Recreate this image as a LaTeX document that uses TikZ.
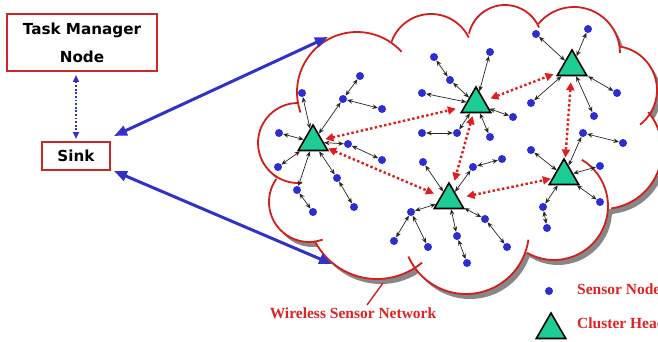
\documentclass[tikz,border=0pt]{standalone}
\usepackage{fontspec}
\newfontfamily\boxfont{DejaVu Sans}
\newfontfamily\capfont{Liberation Serif}
\usetikzlibrary{arrows.meta,shapes.geometric,calc}

\definecolor{cloudred}{RGB}{212,30,30}
\definecolor{boxred}{RGB}{205,40,40}
\definecolor{linkblue}{RGB}{50,50,200}
\definecolor{dotblue}{RGB}{45,45,212}
\definecolor{headgreen}{RGB}{30,204,150}
\definecolor{shadowgray}{RGB}{135,135,135}
\definecolor{labelred}{RGB}{224,34,34}
\definecolor{hopred}{RGB}{226,28,28}

% one scallop of the cloud outline: centre x, centre y, radius, start angle, end angle
\newcommand\cloudarc[5]{%
  \draw[cloudline] (#1,#2) ++(#4:#3) arc[start angle=#4, end angle=#5, radius=#3];}

\tikzset{
  cloudline/.style={draw=cloudred, line width=1.8pt},
  sensor/.style={circle, fill=dotblue, inner sep=0pt, minimum size=8pt},
  head/.style={regular polygon, regular polygon sides=3, draw=black,
    line width=1.6pt, fill=headgreen, inner sep=0pt, minimum size=34pt},
  link/.style={{Stealth[length=5.5pt,width=4.5pt]}-{Stealth[length=5.5pt,width=4.5pt]},
    line width=0.7pt, black!85},
  hop/.style={{Triangle[length=8pt,width=8pt]}-{Triangle[length=8pt,width=8pt]},
    hopred, line width=2.4pt, dash pattern=on 2.4pt off 2.4pt},
  uplink/.style={{Triangle[length=13pt,width=10pt]}-{Triangle[length=13pt,width=10pt]},
    linkblue, line width=3pt},
  ctrl/.style={{Triangle[length=7pt,width=6pt]}-{Triangle[length=7pt,width=6pt]},
    linkblue, line width=1.8pt, dash pattern=on 1.8pt off 1.8pt},
  boxnode/.style={draw=boxred, line width=2pt, fill=white, inner sep=0pt,
    font=\boxfont\bfseries\fontsize{15.2}{28}\selectfont, align=center},
  caption/.style={font=\capfont\bfseries\fontsize{15.5}{18}\selectfont,
    text=labelred, inner sep=0pt}
}

\begin{document}
\begin{tikzpicture}[x=1pt,y=-1pt]
\useasboundingbox (0,0) rectangle (658,342);

% ---- cloud: shadow, body, scalloped outline ----
\def\cloudbody{%
  \foreach \cx/\cy/\r in {357/92/60, 431/56/42, 505/42/37, 574/53/46,
      613/90/44, 603/150/59, 554/206/54, 466/231/63, 377/209/70,
      309/202/40, 298/143/40}
    {\fill (\cx,\cy) circle[radius=\r];}
  \fill (298,103) -- (392,42) -- (469,34) -- (538,24) -- (620,47)
    -- (648,112) -- (611,208) -- (527,252) -- (418,265) -- (318,241)
    -- (277,179) -- cycle;}
\begin{scope}[shift={(4,5)}, shadowgray]
  \cloudbody
\end{scope}
\begin{scope}[white]
  \cloudbody
\end{scope}
\cloudarc{357}{92}{60}{160}{318}
\cloudarc{431}{56}{42}{200}{334}
\cloudarc{505}{42}{37}{193}{337}
\cloudarc{574}{53}{46}{219}{360}
\cloudarc{613}{90}{44}{279}{412}
\cloudarc{603}{150}{59}{-40}{82}
\cloudarc{554}{206}{54}{-59}{120}
\cloudarc{466}{231}{63}{156}{8}
\cloudarc{377}{209}{70}{152}{50}
\cloudarc{309}{202}{40}{215}{70}
\cloudarc{298}{143}{40}{270}{84}

% ---- cluster heads ----
\node[head] (h1) at (313,142) {};
\node[head] (h2) at (476,104) {};
\node[head] (h3) at (572,67) {};
\node[head] (h4) at (564,176) {};
\node[head] (h5) at (449,200) {};

% ---- sensor nodes ----
\foreach \n/\x/\y in {
    a1/302/93, a2/343/99, a3/360/76, a4/382/109, a5/279/133, a6/348/144,
    a7/382/160, a8/278/167, a9/297/190, a10/313/212, a11/337/178, a12/354/207,
    b1/434/57, b2/450/80, b3/490/52, b4/422/93, b5/513/117, b6/457/133,
    b7/422/133, b8/490/137,
    c1/536/34, c2/588/29, c3/531/103, c4/617/93, c5/594/116,
    d1/583/133, d2/623/143, d3/600/166, d4/600/202, d5/543/207, d6/547/228,
    d7/531/150,
    e1/423/162, e2/473/167, e3/502/159, e4/411/212, e5/394/241, e6/428/247,
    e7/457/236, e8/467/263, e9/485/219, e10/507/247}
  {\node[sensor] (\n) at (\x,\y) {};}

% ---- intra-cluster links ----
\foreach \u/\v in {
    a1/h1, a2/h1, a2/a3, a2/a4, a5/h1, a6/h1, a6/a7, a8/h1, a9/h1, a9/a10,
    a11/h1, a11/a12,
    b1/b2, b2/h2, b3/h2, b4/h2, b5/h2, b6/h2, b7/b6, b8/h2,
    c1/h3, c2/h3, c3/h3, c4/h3, c5/h3,
    d1/h4, d1/d2, d3/h4, d4/h4, d5/h4, d5/d6, d7/h4,
    e1/h5, e2/h5, e2/e3, e4/h5, e4/e5, e4/e6, e7/h5, e7/e8, e9/h5, e9/e10}
  {\draw[link] (\u) -- (\v);}

% ---- links between cluster heads ----
\draw[hop, shorten <=3pt, shorten >=8pt] (h1) -- (h2);
\draw[hop, shorten <=1pt, shorten >=7pt] (h1) -- (h5);
\draw[hop, shorten <=3pt, shorten >=7pt] (h2) -- (h5);
\draw[hop, shorten <=6pt, shorten >=5pt] (h2) -- (h3);
\draw[hop, shorten <=6pt, shorten >=2pt] (h3) -- (h4);
\draw[hop, shorten <=8pt, shorten >=1pt] (h5) -- (h4);

% ---- sink and task manager ----
\node[boxnode, minimum width=150pt, minimum height=57pt] (task) at (82,42.5)
  {Task Manager\\Node};
\node[boxnode, minimum width=68pt, minimum height=28pt] (sink) at (76,156) {Sink};

\coordinate (cloudtop) at (328,37);
\coordinate (cloudbot) at (332,264);
\draw[uplink] ([shift={(3,-5)}]sink.north east) -- (cloudtop);
\draw[uplink] ([xshift=3pt]sink.south east) -- (cloudbot);
\draw[ctrl, shorten <=3pt, shorten >=2pt] (sink.north |- task.south) -- (sink.north);

% ---- captions and legend ----
\node[caption, anchor=base] (wsn) at (353,318) {Wireless Sensor Network};
\coordinate (wsnfoot) at (367,305);
\coordinate (wsntip) at (383,283);
\draw[cloudred, line width=1.4pt] (wsnfoot) -- (wsntip);

\node[sensor] (legdot) at (549,291) {};
\node[caption, anchor=base west] (legdottext) at (577,294) {Sensor Node};
\node[head] (leghead) at (551,330) {};
\node[caption, anchor=base west] (legheadtext) at (577,328) {Cluster Head};
\end{tikzpicture}
\end{document}
